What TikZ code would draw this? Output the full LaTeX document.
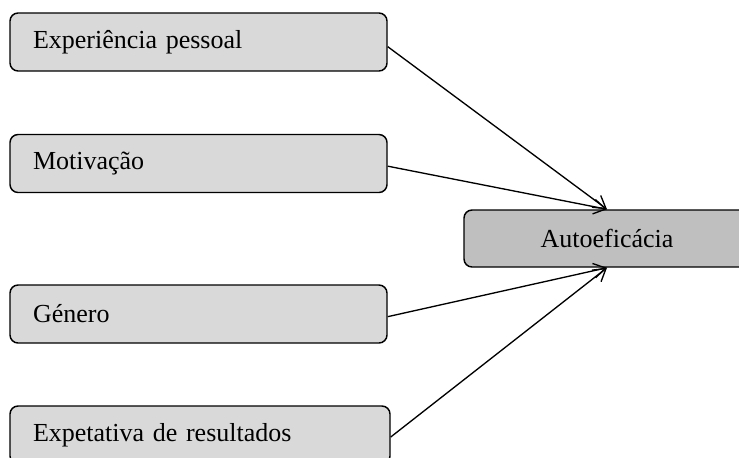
\documentclass[tikz,border=0pt]{standalone}
\usepackage{fontspec}
\setmainfont{Liberation Serif}
\usetikzlibrary{arrows.meta}
\definecolor{factorfill}{HTML}{D9D9D9}
\definecolor{targetfill}{HTML}{BFBFBF}
\begin{document}
\begin{tikzpicture}[x=0.75pt,y=-0.75pt,
  factor/.style={draw=black, line width=1.1pt, rounded corners=6pt, fill=factorfill,
    minimum height=43.5pt, inner xsep=17.25pt, text width=248.25pt, align=left,
    font=\fontsize{19.5}{22}\selectfont},
  target/.style={draw=black, line width=1.1pt, rounded corners=6pt, fill=targetfill,
    minimum height=42.75pt, minimum width=214.5pt, align=center,
    font=\fontsize{19.5}{22}\selectfont},
  link/.style={line width=1pt, -{Straight Barb[length=9pt,width=11pt,line width=1pt]}}]
  \useasboundingbox (0,0) rectangle (739,457);
  \begin{scope}
    \clip (0,0) rectangle (739,457);
    \node[factor] (exp) at (198.5,42) {Experiência pessoal};
    \node[factor] (mot) at (198.5,163.5) {Motivação};
    \node[factor] (gen) at (198.5,314) {Género};
    \node[factor, text width=250.5pt] (res) at (200,435) {Expetativa de resultados};
    \node[target] (auto) at (607,238.5) {Autoeficácia};
    \draw[link] ([yshift=-3.5pt]exp.east) -- (auto.north);
    \draw[link] ([yshift=-2pt]mot.east) -- (auto.north);
    \draw[link] ([yshift=-2pt]gen.east) -- (auto.south);
    \draw[link] ([yshift=-1.5pt]res.east) -- (auto.south);
  \end{scope}
\end{tikzpicture}
\end{document}
